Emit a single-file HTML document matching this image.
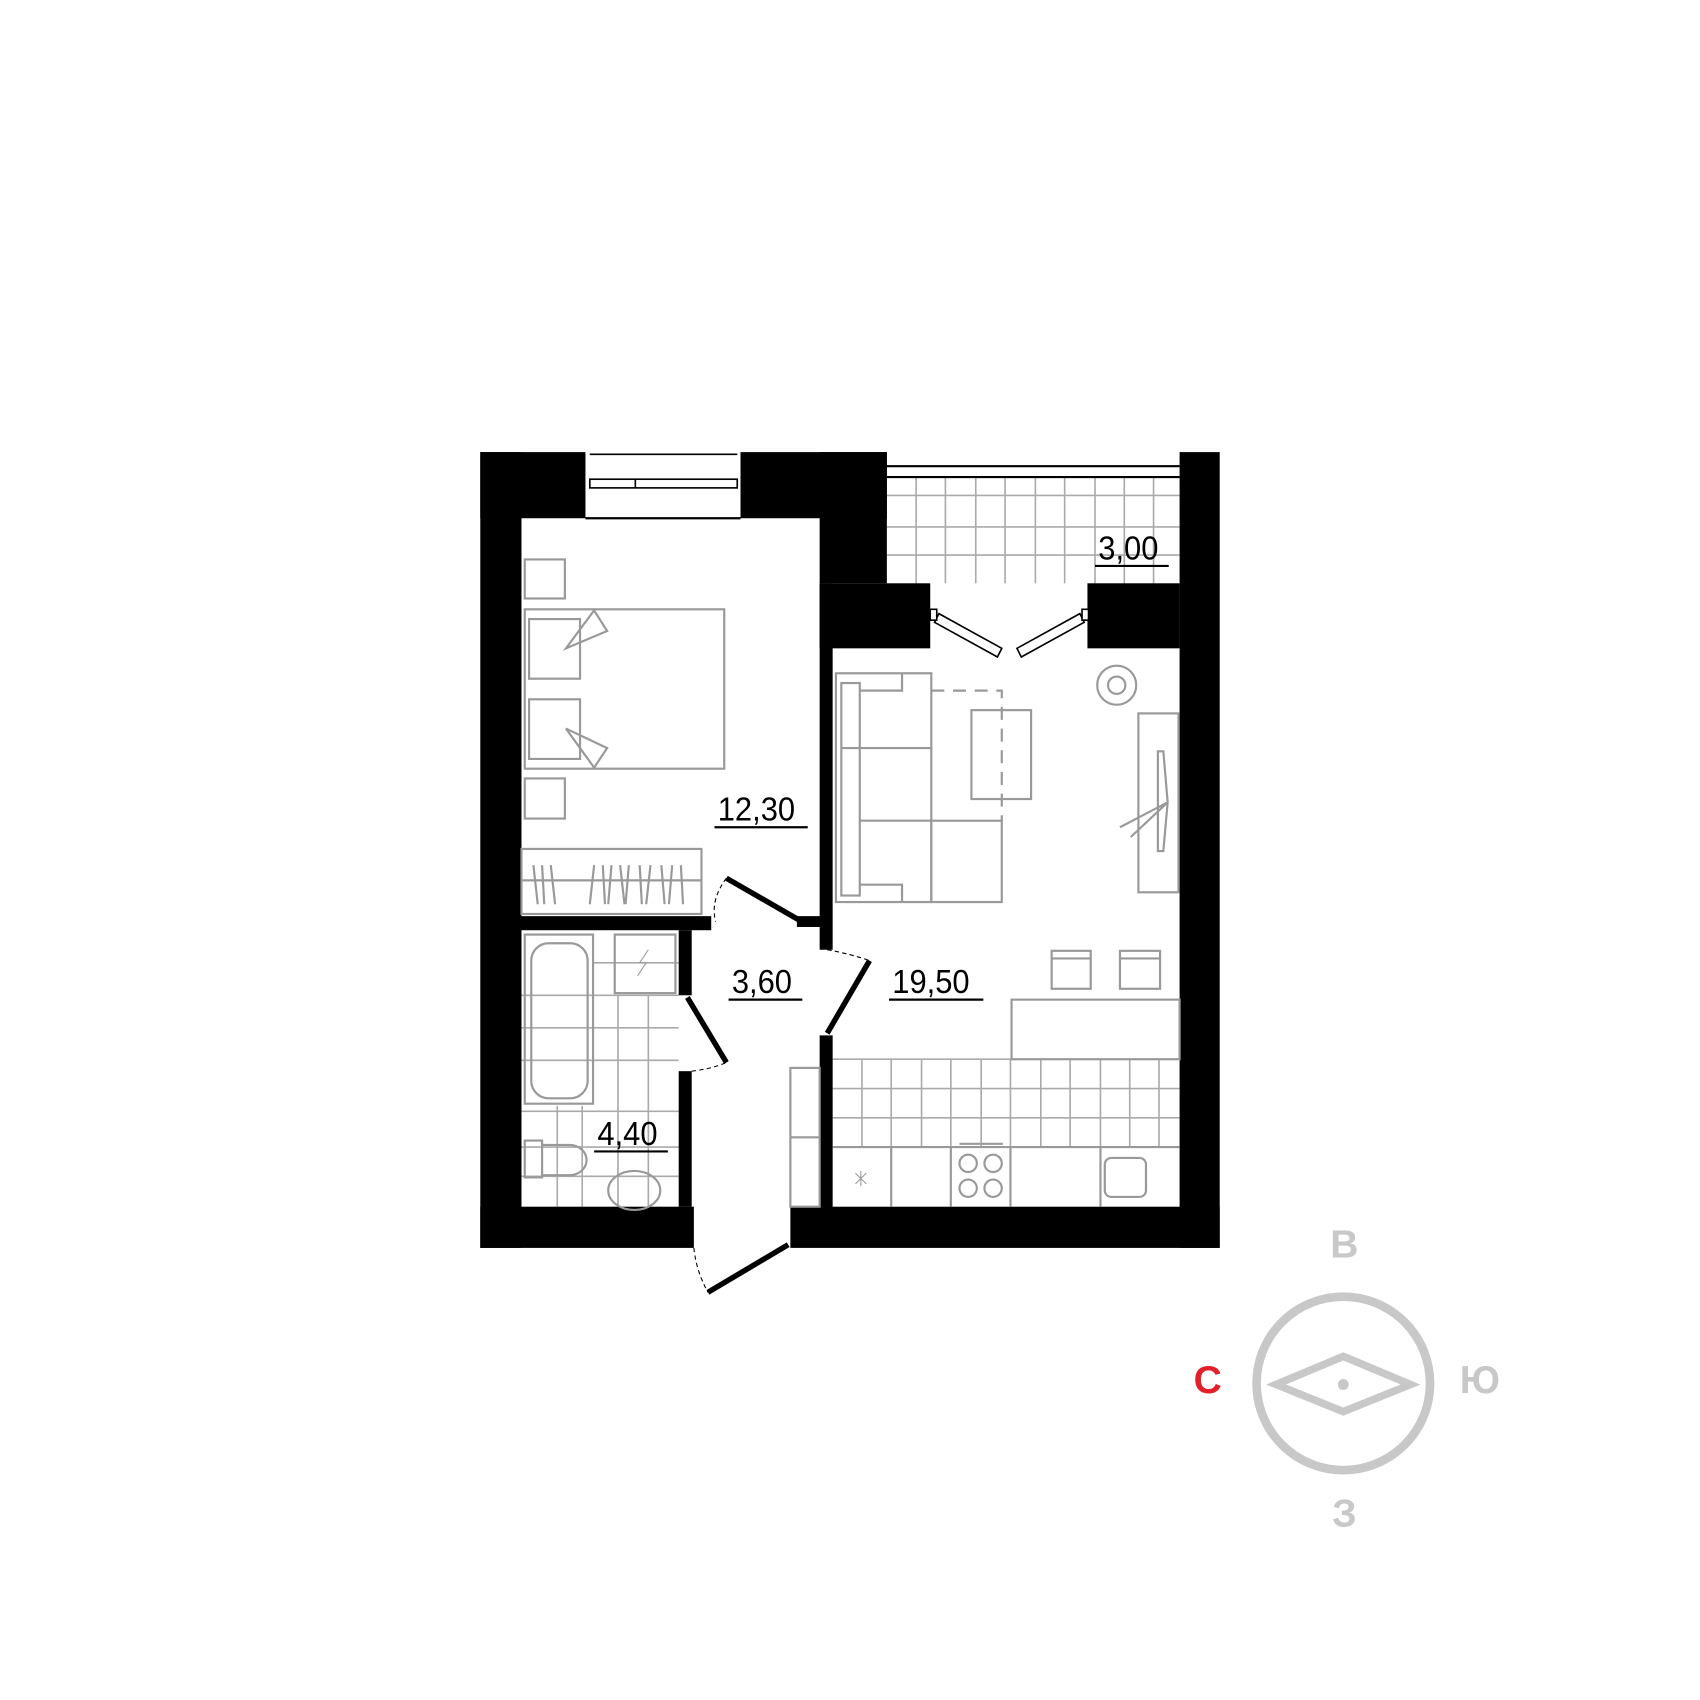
<!DOCTYPE html>
<html><head><meta charset="utf-8"><style>
html,body{margin:0;padding:0;background:#fff}
svg{display:block}
text{font-family:"Liberation Sans",sans-serif}
</style></head><body>
<svg width="1700" height="1700" viewBox="0 0 1568 1568" xmlns="http://www.w3.org/2000/svg">
<rect width="1568" height="1568" fill="#fff"/>
<!-- balcony tiles -->
<g stroke="#aaa" stroke-width="1.5" fill="none">
<line x1="818" y1="457" x2="1088" y2="457"/><line x1="818" y1="486" x2="1088" y2="486"/><line x1="818" y1="512" x2="1088" y2="512"/>
<line x1="845" y1="440" x2="845" y2="538"/><line x1="872" y1="440" x2="872" y2="538"/><line x1="900" y1="440" x2="900" y2="538"/><line x1="927" y1="440" x2="927" y2="538"/><line x1="955" y1="440" x2="955" y2="538"/><line x1="982" y1="440" x2="982" y2="538"/><line x1="1010" y1="440" x2="1010" y2="538"/><line x1="1037" y1="440" x2="1037" y2="538"/><line x1="1064" y1="440" x2="1064" y2="538"/>
</g>
<g stroke="#000" stroke-width="2"><line x1="818" y1="430" x2="1088" y2="430"/><line x1="818" y1="440" x2="1088" y2="440"/></g>
<!-- bath tiles -->
<g stroke="#aaa" stroke-width="1.5" fill="none">
<line x1="547" y1="888" x2="626" y2="888"/>
<line x1="481" y1="918" x2="626" y2="918"/><line x1="481" y1="948" x2="626" y2="948"/><line x1="481" y1="978" x2="626" y2="978"/><line x1="481" y1="1025" x2="626" y2="1025"/><line x1="481" y1="1058" x2="626" y2="1058"/><line x1="481" y1="1085" x2="626" y2="1085"/>
<line x1="514" y1="1020" x2="514" y2="1113"/><line x1="537" y1="1020" x2="537" y2="1113"/><line x1="570" y1="918" x2="570" y2="1113"/><line x1="598" y1="918" x2="598" y2="1113"/>
</g>
<!-- kitchen tiles -->
<g stroke="#aaa" stroke-width="1.5" fill="none">
<line x1="768" y1="977" x2="1088" y2="977"/><line x1="768" y1="1004" x2="1088" y2="1004"/><line x1="768" y1="1031" x2="1088" y2="1031"/><line x1="768" y1="1058" x2="1088" y2="1058"/>
<line x1="795" y1="977" x2="795" y2="1058"/><line x1="822" y1="977" x2="822" y2="1058"/><line x1="850" y1="977" x2="850" y2="1058"/><line x1="877" y1="977" x2="877" y2="1058"/><line x1="905" y1="977" x2="905" y2="1058"/><line x1="932" y1="977" x2="932" y2="1058"/><line x1="960" y1="977" x2="960" y2="1058"/><line x1="987" y1="977" x2="987" y2="1058"/><line x1="1015" y1="977" x2="1015" y2="1058"/><line x1="1042" y1="977" x2="1042" y2="1058"/><line x1="1069" y1="977" x2="1069" y2="1058"/>
</g>
<!-- walls -->
<g fill="#000">
<rect x="443" y="417" width="38" height="734"/>
<rect x="443" y="417" width="97" height="61"/>
<rect x="683" y="417" width="135" height="61"/>
<rect x="756" y="417" width="62" height="121"/>
<rect x="756" y="538" width="102" height="60"/>
<rect x="1003" y="538" width="85" height="60"/>
<rect x="1088" y="417" width="37" height="734"/>
<rect x="756" y="538" width="12" height="338"/>
<rect x="756" y="955" width="12" height="160"/>
<rect x="443" y="1113" width="197" height="38"/>
<rect x="729" y="1113" width="396" height="38"/>
<rect x="481" y="845" width="175" height="13"/>
<rect x="735" y="845" width="25" height="10"/>
<rect x="626" y="858" width="12" height="60"/>
<rect x="626" y="988" width="12" height="125"/>
</g>
<!-- window top -->
<rect x="544" y="417" width="136" height="24" fill="#fff"/>
<line x1="544" y1="419" x2="680" y2="419" stroke="#000" stroke-width="1.5"/>
<g fill="#fff" stroke="#000" stroke-width="1.5">
<rect x="544" y="442" width="136" height="8"/>
<line x1="586" y1="442" x2="586" y2="450"/>
</g>
<line x1="540" y1="478" x2="683" y2="478" stroke="#000" stroke-width="2"/>
<!-- balcony doors -->
<g fill="#fff" stroke="#000" stroke-width="1.5">
<polygon points="866,566 924,598 920,606 862,574"/>
<polygon points="996,566 938,598 942,606 1000,574"/>
<rect x="858" y="562" width="6" height="10"/><rect x="998" y="562" width="6" height="10"/>
</g>
<!-- doors -->
<g stroke="#000" stroke-width="5" fill="none" stroke-linecap="butt">
<line x1="670" y1="810" x2="736" y2="848"/>
<line x1="763" y1="953" x2="802" y2="886"/>
<line x1="634" y1="920" x2="670" y2="980"/>
<line x1="653" y1="1192" x2="727" y2="1148"/>
</g>
<g stroke="#000" stroke-width="1" fill="none" stroke-dasharray="4 3">
<path d="M670 810 Q655 830 660 850"/>
<path d="M763 876 Q785 880 802 886"/>
<path d="M638 988 Q656 986 670 980"/>
<path d="M640 1151 Q642 1172 653 1192"/>
</g>
<!-- furniture -->
<g stroke="#999" stroke-width="2" fill="none">
<rect x="484" y="516" width="37" height="36"/>
<rect x="484" y="718" width="37" height="37"/>
<rect x="484" y="562" width="184" height="147"/>
<rect x="488" y="571" width="47" height="55"/><rect x="488" y="645" width="47" height="55"/>
<polygon points="522,598 548,563 560,582"/><polygon points="522,672 548,708 560,690"/>
<rect x="481" y="783" width="166" height="60"/><line x1="481" y1="812" x2="647" y2="812"/>
<path d="M492 798 l4 36 M500 798 l2 36 M508 798 l4 36 M548 798 l-4 36 M556 798 l2 36 M564 798 l-3 36 M572 798 l4 36 M580 798 l-3 36 M590 798 l2 36 M600 798 l-4 36 M610 798 l3 36 M620 798 l-3 36 M628 798 l2 36"/>
<!-- sofa -->
<rect x="771" y="621" width="88" height="211"/>
<rect x="776" y="630" width="17" height="196"/>
<line x1="776" y1="690" x2="859" y2="690"/>
<polyline points="793,637 832,637 832,621"/>
<polyline points="793,816 832,816 832,832"/>
<rect x="859" y="757" width="65" height="75"/>
<line x1="793" y1="757" x2="859" y2="757"/>
<rect x="896" y="655" width="55" height="82"/>
<path d="M859 637 H924 V757" stroke-dasharray="12 8"/>
<circle cx="1030" cy="632" r="18"/><circle cx="1030" cy="632" r="8"/>
<rect x="1050" y="658" width="37" height="165"/>
<polygon points="1068,693 1073,693 1077,740 1073,785 1068,785"/>
<path d="M1077 740 L1033 763 M1077 740 L1043 772"/>
<rect x="970" y="877" width="36" height="35"/><line x1="970" y1="884" x2="1006" y2="884"/>
<rect x="1033" y="877" width="37" height="35"/><line x1="1033" y1="884" x2="1070" y2="884"/>
<rect x="933" y="922" width="155" height="55"/>
<line x1="768" y1="1058" x2="1088" y2="1058"/>
<line x1="822" y1="1058" x2="822" y2="1113"/><line x1="877" y1="1058" x2="877" y2="1113"/><line x1="932" y1="1058" x2="932" y2="1113"/><line x1="1015" y1="1058" x2="1015" y2="1113"/>
<line x1="885" y1="1055" x2="925" y2="1055"/>
<circle cx="893" cy="1073" r="8"/><circle cx="916" cy="1073" r="8"/><circle cx="893" cy="1096" r="8"/><circle cx="916" cy="1096" r="8"/>
<rect x="1019" y="1068" width="38" height="36" rx="6"/>
<path d="M789 1082 l10 10 M799 1082 l-10 10 M794 1080 v14" stroke-width="1"/>
<rect x="729" y="985" width="27" height="128"/><line x1="729" y1="1049" x2="756" y2="1049"/>
<!-- bath -->
<rect x="484" y="862" width="63" height="156"/>
<rect x="490" y="870" width="52" height="143" rx="16"/>
<rect x="567" y="862" width="56" height="54"/>
<path d="M598 876 l-8 12 h6 l-8 12" stroke-width="1"/>
<rect x="484" y="1052" width="16" height="34"/>
<path d="M500 1056 h25 a16 14 0 0 1 0 28 h-25"/>
<ellipse cx="585" cy="1098" rx="24" ry="18"/>
</g>
<!-- labels -->
<g font-size="31" fill="#000">
<text x="1013" y="516" transform="translate(1013 0) scale(0.92 1) translate(-1013 0)">3,00</text><line x1="1010" y1="522" x2="1078" y2="522" stroke="#000" stroke-width="2"/>
<text x="662" y="757" transform="translate(662 0) scale(0.92 1) translate(-662 0)">12,30</text><line x1="659" y1="763" x2="745" y2="763" stroke="#000" stroke-width="2"/>
<text x="675" y="916" transform="translate(675 0) scale(0.92 1) translate(-675 0)">3,60</text><line x1="672" y1="922" x2="740" y2="922" stroke="#000" stroke-width="2"/>
<text x="823" y="916" transform="translate(823 0) scale(0.92 1) translate(-823 0)">19,50</text><line x1="820" y1="922" x2="907" y2="922" stroke="#000" stroke-width="2"/>
<text x="551" y="1056" transform="translate(551 0) scale(0.92 1) translate(-551 0)">4,40</text><line x1="548" y1="1062" x2="616" y2="1062" stroke="#000" stroke-width="2"/>
</g>
<!-- compass -->
<circle cx="1239" cy="1276" r="80" fill="none" stroke="#c8c8c8" stroke-width="8"/>
<polygon points="1177,1277 1239,1251 1301,1277 1239,1302" fill="none" stroke="#c8c8c8" stroke-width="7"/>
<circle cx="1239" cy="1277" r="5" fill="#c8c8c8"/>
<g font-size="36" font-weight="bold" text-anchor="middle" fill="#c8c8c8">
<text x="1240" y="1160">В</text>
<text x="1365" y="1285">Ю</text>
<text x="1240" y="1408">З</text>
<text x="1114" y="1285" fill="#e3202a">С</text>
</g>
</svg>
</body></html>
